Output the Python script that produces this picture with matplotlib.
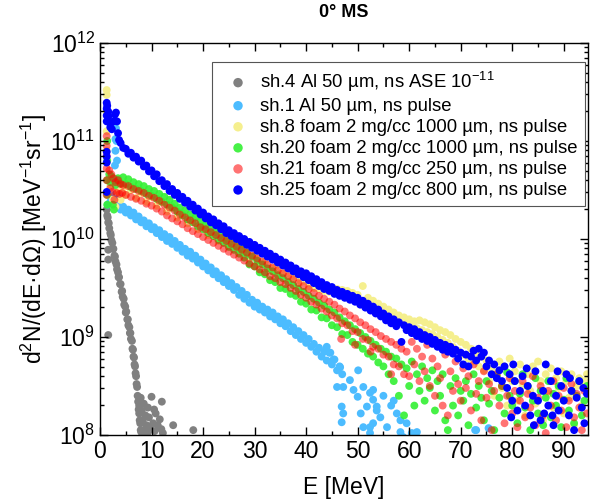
import numpy as np
import matplotlib
matplotlib.use("Agg")
import matplotlib.pyplot as plt
from matplotlib.ticker import LogLocator, MultipleLocator, NullFormatter

plt.rcParams['font.family'] = ['Liberation Sans', 'DejaVu Sans']
plt.rcParams['mathtext.fontset'] = 'custom'
plt.rcParams['mathtext.rm'] = 'Liberation Sans'
plt.rcParams['mathtext.it'] = 'Liberation Sans:italic'

# ---------------- data (E in MeV, log10 of d2N/dEdOmega) ----------------
sh4_E = [1.3, 1.4, 1.5, 1.6, 1.7, 1.8, 2.0, 2.1, 2.2, 2.4, 2.5, 2.6, 2.8, 2.9, 3.0, 3.2, 3.3, 3.5, 3.6, 3.7,
         3.9, 4.0, 4.2, 4.3, 4.4, 4.6, 4.7, 4.9, 5.0, 5.1, 5.3, 5.4, 5.5, 5.7, 5.8, 5.9, 6.0, 6.2, 6.3, 6.4,
         6.5, 6.6, 6.7, 6.8, 6.9, 7.0, 7.1, 7.2, 7.3, 7.4, 7.5, 7.6, 7.7, 7.8, 7.9, 8.0,
         8.3, 8.6, 8.8, 9.0, 9.2, 9.5, 9.7, 10.0, 10.3, 10.6, 10.8, 11.2, 11.6, 12.0, 12.2, 11.9, 14.2, 18.1,
         7.6, 8.1, 7.9, 9.3, 10.5, 8.5, 1.6, 1.6, 1.6]
sh4_logN = [10.30, 10.24, 10.22, 10.17, 10.16, 10.11, 10.06, 10.04, 9.99, 9.96, 9.90, 9.90, 9.83, 9.82, 9.77,
            9.74, 9.69, 9.66, 9.61, 9.61, 9.54, 9.54, 9.46, 9.47, 9.41, 9.39, 9.33, 9.31, 9.25, 9.26, 9.18,
            9.18, 9.12, 9.10, 9.04, 9.04, 8.98, 8.96, 8.88, 8.87, 8.80, 8.79, 8.72, 8.70, 8.63, 8.60, 8.52,
            8.49, 8.40, 8.34, 8.26, 8.22, 8.15, 8.12, 8.05, 8.03,
            8.15, 8.05, 8.20, 8.10, 8.02, 8.18, 8.08, 8.39, 8.12, 8.04, 8.22, 8.10, 8.16, 8.34, 8.02, 8.06,
            8.10, 8.05, 8.30, 8.25, 8.38, 8.28, 8.26, 8.32, 9.89, 9.79, 9.02]

sh1_E = [1.5, 2.0, 2.5, 2.8, 2.9, 2.9, 3.0, 3.0, 3.1, 3.2, 3.3, 3.3, 3.4,
         3.5, 4.0, 4.5, 5.0, 5.5, 6.0, 6.5, 7.0, 7.5, 8.0, 8.5, 9.0, 9.5, 10.0, 10.5, 11.0, 11.5, 12.0,
         12.5, 13.0, 13.5, 14.0, 14.5, 15.0, 15.5, 16.0, 16.5, 17.0, 17.5, 18.0, 18.5, 19.0, 19.5, 20.0,
         20.5, 21.0, 21.5, 22.0, 22.5, 23.0, 23.5, 24.0, 24.5, 25.0, 25.5, 26.0, 26.5, 27.0, 27.5, 28.0,
         28.5, 29.0, 29.5, 30.0, 30.5, 31.0, 31.5, 32.0, 32.5, 33.0, 33.5, 34.0, 34.5, 35.0, 35.5, 36.0,
         36.5, 37.0, 37.5, 38.0, 38.5, 39.0, 39.5, 40.0, 40.5, 41.0, 41.5, 42.0, 42.5, 43.0, 43.5, 44.0,
         44.5, 45.0, 45.5, 46.0, 46.5, 47.0,
         44.0, 45.3, 46.0, 46.9, 46.9, 50.1, 50.0, 50.6, 52.4, 53.7, 53.0, 44.7, 46.6, 47.2, 47.2, 48.5,
         49.2, 51.1, 51.8, 52.4, 53.0, 53.7, 54.4, 53.0, 52.4, 55.7, 57.6, 58.3, 58.3, 51.1, 58.8, 61.5,
         73.0, 72.8, 75.4, 56.5, 59.5, 60.5, 55.0, 57.0]
sh1_logN = [10.35, 10.38, 10.36, 10.45, 10.60, 10.75, 10.90, 11.02, 11.13, 11.00, 10.80, 10.60, 10.45,
            10.34, 10.30, 10.33, 10.27, 10.30, 10.24, 10.27, 10.20, 10.23, 10.17, 10.19, 10.13, 10.16, 10.10,
            10.12, 10.06, 10.09, 10.02, 10.05, 9.98, 10.02, 9.95, 9.98, 9.91, 9.94, 9.87, 9.90, 9.83, 9.87,
            9.80, 9.83, 9.76, 9.79, 9.72, 9.75, 9.68, 9.71, 9.64, 9.67, 9.60, 9.63, 9.56, 9.59, 9.52, 9.55,
            9.48, 9.51, 9.43, 9.47, 9.39, 9.43, 9.35, 9.38, 9.31, 9.35, 9.28, 9.31, 9.25, 9.28, 9.21, 9.25,
            9.18, 9.21, 9.14, 9.18, 9.11, 9.14, 9.06, 9.10, 9.02, 9.06, 8.98, 9.02, 8.94, 8.98, 8.90, 8.93,
            8.85, 8.89, 8.80, 8.85, 8.76, 8.84, 8.72, 8.77, 8.66, 8.70, 8.62,
            8.90, 8.77, 8.49, 8.29, 8.13, 8.66, 8.39, 8.22, 8.08, 8.29, 8.46, 8.84, 8.69, 8.49, 8.22, 8.56,
            8.46, 8.49, 8.29, 8.43, 8.36, 8.25, 8.18, 8.12, 8.02, 8.08, 8.22, 8.15, 8.03, 8.08, 7.98, 8.03,
            8.05, 8.05, 8.07, 8.30, 8.12, 8.02, 8.40, 8.35]

sh8_E = [1.3, 1.3, 1.3, 1.3, 1.3,
         2.0, 2.5, 3.0, 3.5, 4.0, 4.5, 5.0, 6.0, 7.0, 8.0, 9.0, 10.0, 11.0, 12.0, 13.0, 14.0, 15.0, 16.0,
         17.0, 18.0, 19.0, 20.0, 21.0, 22.0, 23.0, 24.0, 25.0, 26.0, 27.0, 28.0, 29.0, 30.0, 31.0, 32.0,
         33.0, 34.0, 35.0, 36.0, 37.0, 38.0, 39.0, 40.0,
         40.5, 41.0, 41.5, 42.0, 42.5, 43.0, 43.5, 44.0, 44.5, 45.0, 45.5, 46.0, 46.5, 47.0, 47.5, 48.0,
         48.5, 49.0, 49.5, 50.0, 50.5, 51.0, 51.5, 52.0, 52.5, 53.0, 53.5, 54.0, 54.5, 55.0, 55.5, 56.0,
         56.5, 57.0, 57.5, 58.0, 58.5, 59.0, 59.5, 60.0, 60.5, 61.0, 61.5, 62.0, 62.5, 63.0, 63.5, 64.0,
         64.5, 65.0, 65.5, 66.0, 66.5, 67.0, 67.5, 68.0, 68.5, 69.0, 69.5, 70.0, 70.5, 71.0, 71.5, 72.0,
         72.5, 73.0, 73.5, 74.0, 74.5, 75.0,
         75.5, 76.0, 76.5, 77.0, 77.5, 78.0, 78.5, 79.0, 79.5, 80.0, 80.5, 81.0, 81.5, 82.0, 82.5, 83.0,
         83.5, 84.0, 84.5, 85.0, 85.5, 86.0, 86.5, 87.0, 87.5, 88.0, 88.5, 89.0, 89.5, 90.0, 90.5, 91.0,
         91.5, 92.0, 92.5, 93.0, 93.5, 94.0, 94.5]
sh8_logN = [11.52, 11.47, 11.30, 11.10, 10.90,
            10.55, 10.40, 10.33, 10.48, 10.40, 10.52, 10.45, 10.50, 10.42, 10.47, 10.38, 10.43, 10.34, 10.38,
            10.28, 10.33, 10.22, 10.26, 10.16, 10.20, 10.10, 10.13, 10.04, 10.07, 9.98, 10.01, 9.92, 9.95,
            9.86, 9.89, 9.80, 9.83, 9.74, 9.77, 9.70, 9.71, 9.65, 9.66, 9.60, 9.61, 9.56, 9.57,
            9.52, 9.56, 9.50, 9.55, 9.49, 9.53, 9.47, 9.52, 9.46, 9.50, 9.45, 9.49, 9.43, 9.48, 9.42, 9.47,
            9.40, 9.45, 9.38, 9.43, 9.36, 9.52, 9.35, 9.40, 9.33, 9.37, 9.30, 9.34, 9.27, 9.31, 9.24, 9.28,
            9.21, 9.25, 9.18, 9.22, 9.16, 9.20, 9.13, 9.18, 9.11, 9.16, 9.09, 9.17, 9.07, 9.15, 9.05, 9.13,
            9.03, 9.10, 9.00, 9.07, 8.97, 9.05, 8.94, 9.02, 8.90, 8.98, 8.86, 8.95, 8.82, 8.92, 8.78, 8.88,
            8.75, 8.84, 8.70, 8.80, 8.66, 8.76,
            8.55, 8.68, 8.40, 8.62, 8.75, 8.48, 8.70, 8.30, 8.78, 8.55, 8.65, 8.35, 8.72, 8.50, 8.20, 8.62,
            8.45, 8.70, 8.32, 8.75, 8.55, 8.15, 8.62, 8.42, 8.68, 8.28, 8.58, 8.48, 8.65, 8.22, 8.55, 8.38,
            8.62, 8.10, 8.50, 8.58, 8.30, 8.55, 8.62]

sh20_E = [1.4, 1.4, 1.4, 1.4, 1.4,
          1.8, 2.0, 2.2, 2.5, 2.7, 3.0, 3.5, 4.0, 4.5, 5.0, 5.5, 6.0, 6.5, 7.0, 7.5, 8.0, 8.5, 9.0, 9.5,
          10.0, 10.5, 11.0, 11.5, 12.0, 12.5, 13.0, 13.5, 14.0, 14.5, 15.0, 15.5, 16.0, 16.5, 17.0, 17.5,
          18.0, 18.5, 19.0, 19.5, 20.0, 20.5, 21.0, 21.5, 22.0, 22.5, 23.0, 23.5, 24.0, 24.5, 25.0, 25.5,
          26.0, 26.5, 27.0, 27.5, 28.0, 28.5, 29.0, 29.5, 30.0, 30.5, 31.0, 31.5, 32.0, 32.5, 33.0, 33.5,
          34.0, 34.5, 35.0, 35.5, 36.0, 36.5, 37.0, 37.5, 38.0, 38.5, 39.0, 39.5, 40.0, 40.5, 41.0, 41.5,
          42.0, 42.5, 43.0, 43.5, 44.0, 44.5, 45.0, 45.5, 46.0, 46.5, 47.0, 47.5, 48.0, 48.5, 49.0, 49.5,
          50.0, 50.5, 51.0, 51.5, 52.0, 52.5, 53.0, 53.5, 54.0, 54.5, 55.0,
          55.5, 56.0, 56.5, 57.0, 57.5, 58.0, 58.5, 59.0, 59.5, 60.0, 60.5, 61.0, 61.5, 62.0, 62.5, 63.0,
          63.5, 64.0, 64.5, 65.0, 65.5, 66.0, 66.5, 67.0, 67.5, 68.0, 68.5, 69.0, 69.5, 70.0, 70.5, 71.0,
          71.5, 72.0, 72.5, 73.0, 73.5, 74.0, 74.5, 75.0, 75.5, 76.0, 76.5, 77.0, 77.5, 78.0, 78.5, 79.0,
          79.5, 80.0, 80.5, 81.0, 81.5, 82.0, 82.5, 83.0, 83.5, 84.0, 84.5, 85.0, 85.5, 86.0, 86.5, 87.0,
          87.5, 88.0, 88.5, 89.0, 89.5, 90.0, 90.5, 91.0, 91.5, 92.0, 92.5, 93.0, 93.5, 94.0, 94.5]
sh20_logN = [11.00, 10.80, 10.60, 10.45, 10.35,
             10.66, 10.58, 10.64, 10.35, 10.30, 10.55, 10.62, 10.57, 10.63, 10.56, 10.61, 10.53, 10.58,
             10.51, 10.56, 10.49, 10.54, 10.46, 10.51, 10.44, 10.49, 10.41, 10.46, 10.38, 10.43, 10.35,
             10.40, 10.32, 10.36, 10.28, 10.32, 10.24, 10.29, 10.20, 10.25, 10.17, 10.22, 10.13, 10.18,
             10.10, 10.14, 10.06, 10.11, 10.03, 10.07, 9.99, 10.04, 9.96, 10.00, 9.92, 9.97, 9.89, 9.93,
             9.85, 9.90, 9.81, 9.86, 9.74, 9.82, 9.72, 9.78, 9.66, 9.74, 9.64, 9.70, 9.58, 9.67, 9.56,
             9.63, 9.50, 9.60, 9.49, 9.56, 9.44, 9.53, 9.42, 9.49, 9.36, 9.46, 9.34, 9.42, 9.28, 9.39,
             9.27, 9.35, 9.20, 9.32, 9.19, 9.28, 9.12, 9.25, 9.10, 9.20, 9.03, 9.16, 9.02, 9.12, 8.95,
             9.08, 8.92, 9.04, 8.88, 9.00, 8.83, 8.96, 8.80, 8.92, 8.74, 8.88, 8.70,
             8.85, 8.62, 8.80, 8.55, 8.78, 8.40, 8.72, 8.20, 8.68, 8.50, 8.75, 8.30, 8.62, 8.45, 8.70, 8.35,
             8.58, 8.48, 8.66, 8.25, 8.55, 8.40, 8.62, 8.15, 8.05, 8.50, 8.30, 8.58, 8.20, 8.45, 8.35, 8.55,
             8.10, 8.42, 8.62, 8.28, 8.50, 8.38, 8.15, 8.55, 8.32, 8.45, 8.05, 8.60, 8.38, 8.50, 8.22, 8.64,
             8.40, 8.30, 8.55, 8.12, 8.42, 8.62, 8.28, 8.50, 8.05, 8.35, 8.58, 8.22, 8.45, 8.10, 8.38, 8.55,
             8.18, 8.42, 8.30, 8.50, 8.08, 8.36, 8.58, 8.25, 8.45, 8.12, 8.40, 8.55, 8.20, 8.35, 8.50]

sh21_E = [1.3, 1.3, 1.3, 1.3, 1.3, 1.3,
          1.8, 2.0, 2.2, 2.4, 2.6, 2.8, 3.0, 3.2, 3.5, 3.8, 4.0, 4.3, 4.5, 5.0, 5.5, 6.0, 6.5, 7.0, 7.5,
          8.0, 8.5, 9.0, 9.5, 10.0, 10.5, 11.0, 11.5, 12.0, 12.5, 13.0, 13.5, 14.0, 14.5, 15.0, 15.5,
          16.0, 16.5, 17.0, 17.5, 18.0, 18.5, 19.0, 19.5, 20.0, 20.5, 21.0, 21.5, 22.0, 22.5, 23.0, 23.5,
          24.0, 24.5, 25.0, 25.5, 26.0, 26.5, 27.0, 27.5, 28.0, 28.5, 29.0, 29.5, 30.0, 30.5, 31.0, 31.5,
          32.0, 32.5, 33.0, 33.5, 34.0, 34.5, 35.0, 35.5, 36.0, 36.5, 37.0, 37.5, 38.0, 38.5, 39.0, 39.5,
          40.0, 40.5, 41.0, 41.5, 42.0, 42.5, 43.0, 43.5, 44.0, 44.5, 45.0, 45.5, 46.0, 46.5, 47.0, 47.5,
          48.0, 48.5, 49.0, 49.5, 50.0, 50.5, 51.0, 51.5, 52.0, 52.5, 53.0, 53.5, 54.0, 54.5, 55.0, 55.5,
          56.0, 56.5, 57.0, 57.5, 58.0, 58.5, 59.0, 59.5, 60.0,
          46.8, 49.5, 52.5, 56.5,
          60.5, 61.0, 61.5, 62.0, 62.5, 63.0, 63.5, 64.0, 64.5, 65.0, 65.5, 66.0, 66.5, 67.0, 67.5, 68.0,
          68.5, 69.0, 69.5, 70.0, 70.5, 71.0, 71.5, 72.0, 72.5, 73.0, 73.5, 74.0, 74.5, 75.0, 75.5, 76.0,
          76.5, 77.0, 77.5, 78.0, 78.5, 79.0, 79.5, 80.0, 80.5, 81.0, 81.5, 82.0, 82.5, 83.0, 83.5, 84.0,
          84.5, 85.0, 85.5, 86.0, 86.5, 87.0, 87.5, 88.0, 88.5, 89.0, 89.5, 90.0, 90.5, 91.0, 91.5, 92.0,
          92.5, 93.0, 93.5, 94.0, 94.5]
sh21_logN = [11.05, 10.95, 10.85, 10.72, 10.60, 10.45,
             10.70, 10.52, 10.66, 10.48, 10.62, 10.40, 10.58, 10.47, 10.60, 10.46, 10.56, 10.47, 10.55,
             10.45, 10.54, 10.43, 10.51, 10.41, 10.49, 10.39, 10.47, 10.36, 10.44, 10.34, 10.42, 10.31,
             10.39, 10.28, 10.35, 10.24, 10.32, 10.21, 10.29, 10.18, 10.25, 10.15, 10.22, 10.11, 10.19,
             10.08, 10.16, 10.05, 10.12, 10.02, 10.10, 9.99, 10.07, 9.96, 10.04, 9.93, 10.01, 9.90, 9.98,
             9.87, 9.95, 9.84, 9.92, 9.81, 9.89, 9.78, 9.86, 9.75, 9.83, 9.72, 9.80, 9.69, 9.77, 9.66,
             9.74, 9.62, 9.71, 9.60, 9.68, 9.56, 9.65, 9.54, 9.62, 9.50, 9.59, 9.47, 9.55, 9.43, 9.52,
             9.40, 9.49, 9.36, 9.45, 9.33, 9.42, 9.29, 9.39, 9.26, 9.36, 9.22, 9.33, 9.19, 9.29, 9.14,
             9.26, 9.12, 9.22, 9.06, 9.19, 9.05, 9.15, 8.98, 9.12, 8.97, 9.08, 8.90, 9.05, 8.88, 9.01,
             8.82, 8.98, 8.80, 8.95, 8.72, 8.92, 8.70, 8.88, 8.62, 8.85, 8.60,
             8.98, 8.92, 8.85, 8.62,
             8.95, 8.72, 8.88, 8.55, 8.80, 8.65, 8.92, 8.50, 8.78, 8.40, 8.70, 8.58, 8.30, 8.82, 8.20, 8.65,
             8.45, 8.75, 8.52, 8.35, 8.68, 8.48, 8.60, 8.25, 8.72, 8.42, 8.55, 8.15, 8.65, 8.38, 8.52, 8.05,
             8.45, 8.62, 8.30, 8.50, 8.12, 8.40, 8.58, 8.22, 8.45, 8.08, 8.35, 8.55, 8.18, 8.42, 8.28, 8.60,
             8.10, 8.38, 8.50, 8.20, 8.02, 8.45, 8.30, 8.55, 8.15, 8.40, 8.25, 8.48, 8.08, 8.35, 8.52, 8.18,
             8.42, 8.28, 8.05, 8.45, 8.22]

sh25_E = [1.3, 1.3, 1.3, 1.3, 1.3, 1.3, 1.3, 1.3, 1.4, 1.6, 1.6, 2.0, 2.0, 2.3, 2.6, 2.9, 3.1, 3.3, 3.5, 3.7,
          4.0, 4.5, 5.0, 5.5, 6.0, 6.5, 7.0, 7.5, 8.0, 8.5, 9.0, 9.5, 10.0, 10.5, 11.0, 11.5, 12.0, 12.5,
          13.0, 13.5, 14.0, 14.5, 15.0, 15.5, 16.0, 16.5, 17.0, 17.5, 18.0, 18.5, 19.0, 19.5, 20.0, 20.5,
          21.0, 21.5, 22.0, 22.5, 23.0, 23.5, 24.0, 24.5, 25.0, 25.5, 26.0, 26.5, 27.0, 27.5, 28.0, 28.5,
          29.0, 29.5, 30.0, 30.5, 31.0, 31.5, 32.0, 32.5, 33.0, 33.5, 34.0, 34.5, 35.0, 35.5, 36.0, 36.5,
          37.0, 37.5, 38.0, 38.5, 39.0, 39.5, 40.0, 40.5, 41.0, 41.5, 42.0, 42.5, 43.0, 43.5, 44.0, 44.5,
          45.0, 45.5, 46.0, 46.5, 47.0, 47.5, 48.0, 48.5, 49.0, 49.5, 50.0, 50.5, 51.0, 51.5, 52.0, 52.5,
          53.0, 53.5, 54.0, 54.5, 55.0, 55.5, 56.0, 56.5, 57.0, 57.5, 58.0, 58.5, 59.0, 59.5, 60.0, 60.5,
          61.0, 61.5, 62.0, 62.5, 63.0, 63.5, 64.0, 64.5, 65.0, 65.5, 66.0, 66.5, 67.0, 67.5, 68.0, 68.5,
          69.0, 69.5, 70.0, 70.5, 71.0, 71.5, 72.0, 72.5, 73.0, 73.5, 74.0, 74.5, 75.0, 75.5, 76.0, 76.5,
          77.0, 77.5, 78.0,
          78.5, 79.0, 79.5, 80.0, 80.5, 81.0, 81.5, 82.0, 82.5, 83.0, 83.5, 84.0, 84.5, 85.0, 85.5, 86.0,
          86.5, 87.0, 87.5, 88.0, 88.5, 89.0, 89.5, 90.0, 90.5, 91.0, 91.5, 92.0, 92.5, 93.0, 93.5, 94.0,
          94.5, 80.2, 84.2, 86.2, 88.8, 91.2, 93.8, 79.8, 82.8, 87.8]
sh25_logN = [11.39, 11.33, 11.26, 11.20, 10.89, 10.84, 10.78, 10.48, 11.36, 11.30, 11.25, 11.14, 11.18, 11.12,
             11.20, 11.27, 11.29, 11.20, 11.08, 11.01,
             10.98, 10.93, 10.92, 10.87, 10.88, 10.83, 10.84, 10.79, 10.80, 10.74, 10.75, 10.69, 10.70,
             10.64, 10.66, 10.59, 10.60, 10.54, 10.56, 10.49, 10.51, 10.45, 10.47, 10.41, 10.43, 10.37,
             10.39, 10.33, 10.35, 10.29, 10.31, 10.25, 10.27, 10.21, 10.23, 10.17, 10.20, 10.14, 10.16,
             10.10, 10.13, 10.06, 10.09, 10.03, 10.06, 10.00, 10.03, 9.97, 10.00, 9.94, 9.97, 9.91, 9.94,
             9.88, 9.91, 9.85, 9.88, 9.82, 9.85, 9.79, 9.82, 9.76, 9.79, 9.73, 9.76, 9.70, 9.73, 9.67, 9.70,
             9.64, 9.67, 9.61, 9.65, 9.58, 9.62, 9.55, 9.59, 9.52, 9.56, 9.49, 9.53, 9.47, 9.51, 9.44, 9.48,
             9.42, 9.46, 9.40, 9.44, 9.38, 9.42, 9.36, 9.40, 9.33, 9.37, 9.30, 9.34, 9.27, 9.31, 9.24, 9.28,
             9.21, 9.24, 9.17, 9.21, 9.14, 9.18, 9.11, 9.15, 8.95, 9.12, 9.07, 9.10, 9.04, 9.08, 9.01, 9.05,
             8.98, 9.02, 8.96, 9.00, 8.93, 8.97, 8.90, 8.94, 8.87, 8.92, 8.85, 8.90, 8.83, 8.87, 8.78, 8.84,
             8.72, 8.82, 8.70, 8.80, 8.86, 8.76, 8.88, 8.80, 8.84, 8.70, 8.76, 8.62, 8.72, 8.58, 8.66, 8.55,
             8.70, 8.48, 8.62, 8.35, 8.55, 8.25, 8.45, 8.60, 8.30, 8.50, 8.20, 8.40, 8.65, 8.35, 8.15, 8.45,
             8.72, 8.30, 8.55, 8.10, 8.40, 8.25, 8.50, 8.35, 8.62, 8.20, 8.45, 8.05, 8.38, 8.55, 8.28, 8.12,
             8.42, 8.72, 8.10, 8.22, 8.65, 8.58, 8.48, 8.18, 8.68, 8.20]

labels = ["sh.4 Al 50 µm, ns ASE 10$^{-11}$",
          "sh.1 Al 50 µm, ns pulse",
          "sh.8 foam 2 mg/cc 1000 µm, ns pulse",
          "sh.20 foam 2 mg/cc 1000 µm, ns pulse",
          "sh.21 foam 8 mg/cc 250 µm, ns pulse",
          "sh.25 foam 2 mg/cc 800 µm, ns pulse"]
colors = ['#808080', '#4cbcff', '#f5ef8e', '#33f033', '#ff0000', '#0000ff']
alphas = [1.0, 1.0, 1.0, 0.9, 0.55, 1.0]

series = [(sh4_E, sh4_logN), (sh1_E, sh1_logN), (sh8_E, sh8_logN),
          (sh20_E, sh20_logN), (sh21_E, sh21_logN), (sh25_E, sh25_logN)]

fig = plt.figure(figsize=(5.9, 5.03), dpi=100)
ax = fig.add_axes([100/590, 68/503, 488/590, 392/503])

for (E, lg), c, a, lab in zip(series, colors, alphas, labels):
    ax.scatter(E, 10.0 ** np.array(lg), s=32, color=c, alpha=a, edgecolors='none', label=lab)

ax.set_yscale('log')
ax.set_xlim(0, 94.7)
ax.set_ylim(1e8, 1e12)
ax.xaxis.set_major_locator(MultipleLocator(10))
ax.xaxis.set_minor_locator(MultipleLocator(5))
ax.yaxis.set_major_locator(LogLocator(base=10, numticks=10))
ax.yaxis.set_minor_locator(LogLocator(base=10, subs=np.arange(2, 10), numticks=20))
ax.yaxis.set_minor_formatter(NullFormatter())
ax.tick_params(which='both', direction='in', top=True, right=True, labelsize=16.5, width=1, colors='black')
ax.tick_params(which='major', length=6)
ax.tick_params(which='minor', length=3)
for sp in ax.spines.values():
    sp.set_linewidth(1.0)

ax.set_xlabel('E [MeV]', fontsize=16.5)
ax.set_ylabel(r'd$^2$N/(dE·dΩ) [MeV$^{-1}$sr$^{-1}$]', fontsize=16.5)
ax.xaxis.set_label_coords(0.5, -0.105)
ax.yaxis.set_label_coords(-0.105, 0.5)
ax.text(0.5, 1.079, '0° MS', transform=ax.transAxes, ha='center', va='center',
        fontsize=13, fontweight='bold')

leg = ax.legend(loc='upper right', bbox_to_anchor=(0.994, 0.9515), borderaxespad=0,
                fontsize=13.3, scatterpoints=1, markerscale=1.2, labelspacing=0.22,
                handletextpad=0.2, borderpad=0.4, fancybox=False, framealpha=1,
                edgecolor='#555555')
leg.get_frame().set_linewidth(0.8)

fig.savefig('out.png', dpi=100)
